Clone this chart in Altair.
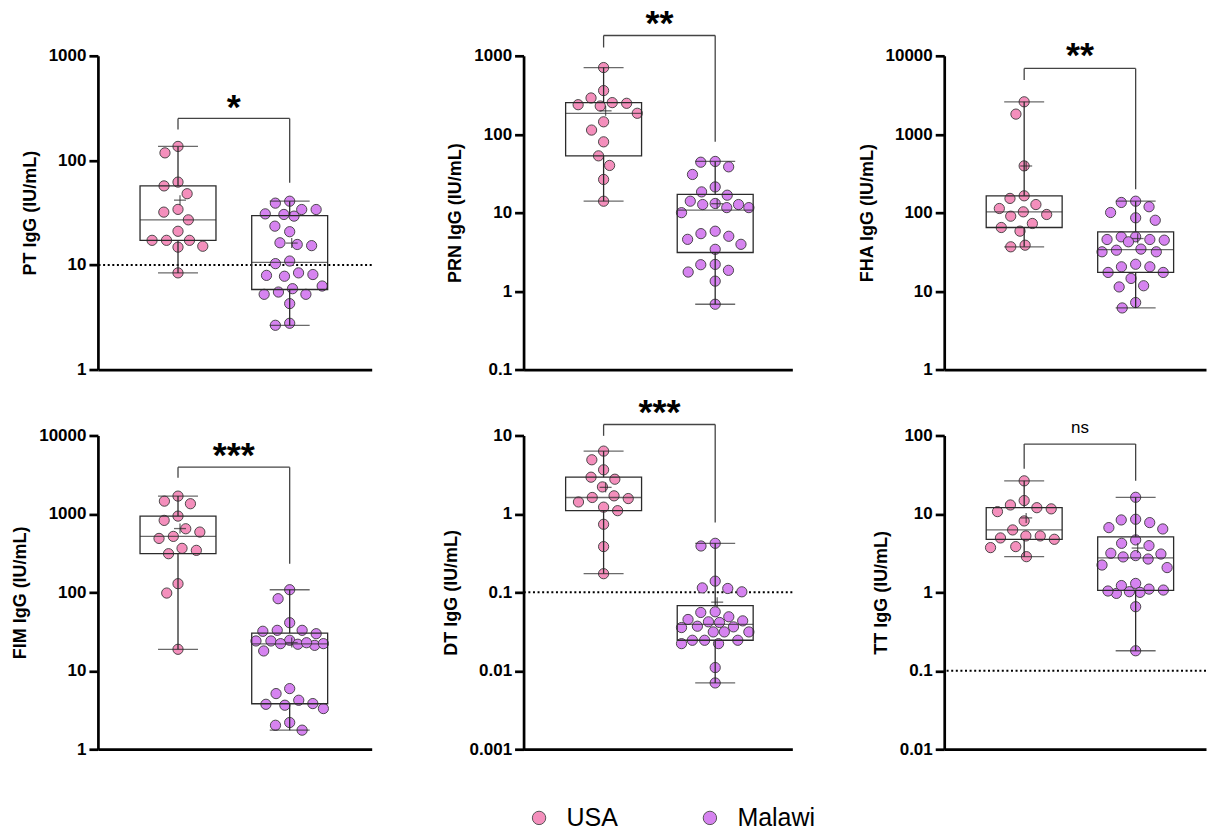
import altair as alt
import numpy as np
import pandas as pd

FONT = "Liberation Sans"
groups = ["USA", "Malawi"]
group_colors = ["#F48FBC", "#D683F0"]

# ---- values (IU/mL) ----
pt_usa = [136, 118, 62, 57, 48, 34, 32, 27, 21, 17.2, 17.2, 17.2, 15.1, 14.8, 8.4]
pt_malawi = [40.7, 39.0, 33.9, 33.9, 30.4, 30.8, 29.3, 23.5, 20.8, 15.3, 16.3, 15.7, 10.3,
             10.9, 7.8, 7.95, 8.1, 8.4, 5.93, 6.29, 5.24, 5.51, 5.24, 4.27, 2.65, 2.77]
prn_usa = [708, 360, 290, 229, 238, 248, 253, 185, 144, 113, 80, 53, 40, 26.5, 14]
prn_malawi = [44, 45, 38.4, 30.7, 21.3, 18.4, 16.7, 14, 13.1, 11.6, 12.7, 11.6, 12.7, 10.0,
              5.8, 5.4, 5.0, 4.57, 3.95, 3.41, 2.17, 2.19, 1.84, 1.75, 1.34, 0.68]
fha_usa = [2590, 1805, 395, 152, 164, 127, 102.5, 113, 94.8, 90.2, 72.8, 64.7, 58.1, 36.7, 38.5]
fha_malawi = [119, 135, 140, 100.5, 80, 86, 45.5, 49.2, 44.6, 49.2, 42.5, 45.5, 34.3, 31.7,
              31.7, 33.2, 20.4, 17.3, 17.3, 20.4, 22.0, 14.5, 11.3, 11.7, 7.15, 6.1]
fim_usa = [1687, 1349, 1456, 938, 827, 647, 587, 517, 487, 343, 364, 311, 129, 98, 18.8]
fim_malawi = [108, 83, 41, 32.8, 32.8, 31.9, 29.7, 24.0, 21.1, 22.2, 24.5, 24.0, 21.8, 22.8,
              22.2, 17.9, 5.93, 5.12, 4.21, 3.64, 3.74, 3.82, 3.30, 2.19, 2.02, 1.75]
dt_usa = [6.32, 4.90, 3.65, 2.94, 2.77, 2.21, 1.42, 1.62, 1.57, 1.70, 1.10, 1.22, 0.738, 0.383, 0.173]
dt_malawi = [0.422, 0.390, 0.139, 0.112, 0.114, 0.1016, 0.0565, 0.0554, 0.0488, 0.0433, 0.0421,
             0.0451, 0.0413, 0.0363, 0.0370, 0.0356, 0.0313, 0.0313, 0.0313, 0.0245, 0.0222,
             0.0245, 0.0222, 0.0245, 0.011, 0.007]
tt_usa = [26.4, 14.8, 13.0, 10.7, 12.0, 11.6, 8.14, 6.25, 5.24, 4.94, 4.75, 5.24, 3.72, 3.83, 2.85]
tt_malawi = [16.3, 7.75, 8.38, 8.55, 6.43, 6.69, 4.66, 3.94, 4.22, 2.94, 3.15, 3.08, 2.66, 2.83,
             2.23, 2.07, 1.30, 1.10, 0.97, 1.22, 1.02, 1.04, 1.0, 1.07, 0.656, 0.18]

titles = ["PT IgG (IU/mL)", "PRN IgG (IU/mL)", "FHA IgG (IU/mL)",
          "FIM IgG (IU/mL)", "DT IgG (IU/mL)", "TT IgG (IU/mL)"]
y_domains = [(1, 1000), (0.1, 1000), (1, 10000), (1, 10000), (0.001, 10), (0.01, 100)]
thresholds = [10, None, None, None, 0.1, 0.1]
sig_labels = ["*", "**", "**", "***", "***", "ns"]
# bracket: top of bracket, bottom of left leg, bottom of right leg, label centre
bracket_top = [252, 1815, 6900, 3945, 13.8, 77.6]
bracket_left = [197, 1276, 4898, 2884, 9.9, 37.6]
bracket_right = [61, 80, 199.5, 231, 0.776, 26.4]
label_y = [345, 2838, 11050, 6124, 21.9, 124]
series = [(pt_usa, pt_malawi), (prn_usa, prn_malawi), (fha_usa, fha_malawi),
          (fim_usa, fim_malawi), (dt_usa, dt_malawi), (tt_usa, tt_malawi)]

H = 314
UNIT = 116.0   # px between group centres
X0 = 78.0      # px from y axis to first group
col_widths = [274, 269, 262]
LINE = "#2b2b2b"


def swarm_offsets(values, ppd, d=15.0, maxw=35.0):
    ys = [-np.log10(v) * ppd for v in values]
    order = sorted(range(len(values)), key=lambda i: ys[i])
    placed = []
    offs = [0.0] * len(values)
    for i in order:
        y = ys[i]
        ivs = []
        for (px, py) in placed:
            dy = abs(py - y)
            if dy < d:
                dx = float(np.sqrt(d * d - dy * dy))
                ivs.append((px - dx, px + dx))
        cands = [0.0] + [a for a, _ in ivs] + [b for _, b in ivs]
        cands.sort(key=lambda c: (abs(c), c))
        x = None
        for c in cands:
            if abs(c) <= maxw and all(not (a + 1e-6 < c < b - 1e-6) for a, b in ivs):
                x = c
                break
        if x is None:
            # crowded row: take the spot inside the swarm width with the most room
            best, best_d = 0.0, -1.0
            for c in np.arange(-maxw, maxw + 0.01, 0.5):
                md = min(np.hypot(c - px, y - py) for px, py in placed)
                if md > best_d + 1e-9 or (abs(md - best_d) < 1e-9 and abs(c) < abs(best)):
                    best, best_d = float(c), md
            x = best
        placed.append((x, y))
        offs[i] = x
    return offs


def make_panel(k, width):
    lo, hi = y_domains[k]
    ppd = H / (np.log10(hi) - np.log10(lo))
    xmin = 1 - X0 / UNIT
    xmax = xmin + width / UNIT
    pts, boxes, whisk, caps, meds, means = [], [], [], [], [], []
    for gi, (g, vals) in enumerate(zip(groups, series[k])):
        pos = gi + 1
        offs = swarm_offsets(vals, ppd)
        for v, o in zip(vals, offs):
            pts.append({"group": g, "x": pos + o / UNIT, "value": v})
        arr = np.array(vals, float)
        q1, med, q3 = np.percentile(arr, [25, 50, 75], method="weibull")
        mn, mx, mean = arr.min(), arr.max(), arr.mean()
        boxes.append({"x": pos, "value": q1, "value2": q3})
        whisk += [{"x": pos, "value": q3, "value2": mx}, {"x": pos, "value": mn, "value2": q1}]
        caps += [{"x": pos, "value": mn}, {"x": pos, "value": mx}]
        meds.append({"x": pos, "value": med})
        means.append({"x": pos, "value": mean})
    ticks = [10 ** e for e in range(int(round(np.log10(lo))), int(round(np.log10(hi))) + 1)]

    yscale = alt.Scale(type="log", domain=[lo, hi], nice=False)
    yaxis = alt.Axis(values=ticks, format="~g", grid=False, tickSize=9, tickWidth=2.7,
                     domainWidth=2.7, domainColor="black", tickColor="black",
                     labelFontSize=17, labelFontWeight="bold", labelColor="black",
                     labelPadding=3, labelFont=FONT,
                     titleFontSize=18, titleFontWeight="bold", titleColor="black",
                     titlePadding=9, titleFont=FONT)
    xscale = alt.Scale(domain=[xmin, xmax], nice=False, zero=False)
    xaxis = alt.Axis(title=None, labels=False, ticks=False, grid=False,
                     domainWidth=2.7, domainColor="black")

    def X(f="x"):
        return alt.X(f"{f}:Q", scale=xscale, axis=xaxis)

    def Y(f="value"):
        return alt.Y(f"{f}:Q", scale=yscale, axis=yaxis, title=titles[k])

    layers = []
    if thresholds[k] is not None:
        layers.append(alt.Chart(pd.DataFrame({"value": [thresholds[k]]}))
                      .mark_rule(color="black", strokeWidth=2, strokeDash=[2, 2.6])
                      .encode(y=Y()))
    layers.append(alt.Chart(pd.DataFrame(pts)).mark_circle(
        size=105, opacity=1, stroke="#3a3a3a", strokeWidth=0.9).encode(
        x=X(), y=Y(),
        color=alt.Color("group:N", scale=alt.Scale(domain=groups, range=group_colors),
                        legend=alt.Legend(title=None, orient="none", legendX=429, legendY=750,
                                          direction="horizontal", symbolType="circle",
                                          symbolSize=180, symbolStrokeColor="#555",
                                          symbolStrokeWidth=1, labelFontSize=25,
                                          labelFont=FONT, labelColor="black",
                                          labelOffset=15, columnPadding=79, padding=0,
                                          labelLimit=0))))
    layers.append(alt.Chart(pd.DataFrame(boxes)).mark_bar(
        size=76, fillOpacity=0, stroke=LINE, strokeWidth=1.3).encode(
        x=X(), y=Y(), y2=alt.Y2("value2:Q")))
    layers.append(alt.Chart(pd.DataFrame(whisk)).mark_rule(color=LINE, strokeWidth=1.3).encode(
        x=X(), y=Y(), y2=alt.Y2("value2:Q")))
    layers.append(alt.Chart(pd.DataFrame(caps)).mark_tick(
        orient="horizontal", size=40, thickness=1.3, color=LINE).encode(x=X(), y=Y()))
    layers.append(alt.Chart(pd.DataFrame(meds)).mark_tick(
        orient="horizontal", size=76, thickness=1.3, color=LINE).encode(x=X(), y=Y()))
    layers.append(alt.Chart(pd.DataFrame(means)).mark_tick(
        orient="horizontal", size=12, thickness=1.3, color=LINE, xOffset=2).encode(x=X(), y=Y()))
    layers.append(alt.Chart(pd.DataFrame(means)).mark_tick(
        orient="vertical", size=10, thickness=1.3, color=LINE, xOffset=2).encode(x=X(), y=Y()))
    seg = pd.DataFrame([
        {"x": 1, "x2": 2, "value": bracket_top[k], "value2": bracket_top[k]},
        {"x": 1, "x2": 1, "value": bracket_left[k], "value2": bracket_top[k]},
        {"x": 2, "x2": 2, "value": bracket_right[k], "value2": bracket_top[k]},
    ])
    layers.append(alt.Chart(seg).mark_rule(color="#444444", strokeWidth=1.3).encode(
        x=X(), x2=alt.X2("x2:Q"), y=Y(), y2=alt.Y2("value2:Q")))
    lab = pd.DataFrame({"x": [1.5], "value": [label_y[k]], "text": [sig_labels[k]]})
    if sig_labels[k] == "ns":
        tmark = alt.Chart(lab).mark_text(fontSize=17, font=FONT, color="black",
                                         baseline="alphabetic", dy=5)
    else:
        tmark = alt.Chart(lab).mark_text(fontSize=36, font=FONT, fontWeight="bold",
                                         color="black", baseline="alphabetic", dy=15)
    layers.append(tmark.encode(x=X(), y=Y(), text="text:N"))
    return alt.layer(*layers).properties(width=width, height=H)


panels = [make_panel(i, col_widths[i % 3]) for i in range(6)]
chart = alt.concat(*panels, columns=3, spacing={"row": 66, "column": 152},
                   bounds="flush").properties(
    padding={"left": 11, "top": 5.5, "right": 0, "bottom": 0},
    background="white",
).configure(font=FONT).configure_view(stroke=None)

chart.save("out.html", embed_options={"renderer": "svg", "actions": False})
